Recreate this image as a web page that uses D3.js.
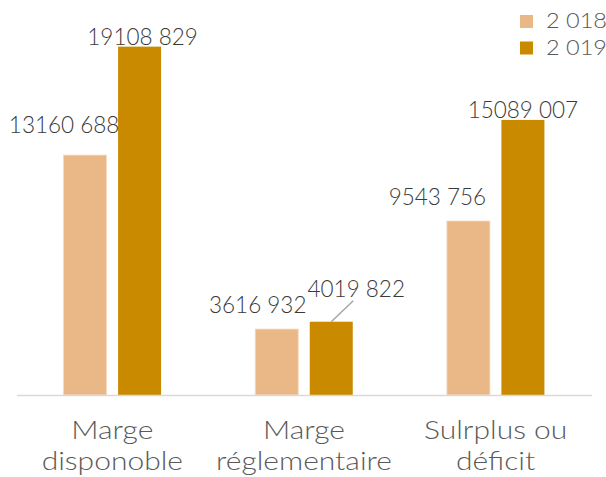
<!DOCTYPE html>
<html>
<head>
<meta charset="utf-8">
<script src="https://cdn.jsdelivr.net/npm/d3@7"></script>
<style>
  html, body { margin: 0; padding: 0; background: #fff; }
  svg { display: block; }
</style>
</head>
<body>
<svg id="chart" width="606" height="477"></svg>
<script>
// Chart data
const categories = [["Marge", "disponoble"], ["Marge", "réglementaire"], ["Sulrplus ou", "déficit"]];
const seriesNames = ["2 018", "2 019"];
const values2018 = [13160688, 3616932, 9543756];
const values2019 = [19108829, 4019822, 15089007];

// Layout and styling
const colors = { "2 018": "#EAB886", "2 019": "#CA8A00" };
const baseY = 395;
const FONT = "Lato, sans-serif";
// label offsets from the top-centre of each bar: [dx, dy]
const labelNudge = {
  "2 018": [[-21, -22], [-19, -16], [-31, -16]],
  "2 019": [[3, -2], [25, -25], [0, -2]]
};

const svg = d3.select("#chart");

// widen a text horizontally so the face reads like a wide geometric sans
function widen(sel, factor) {
  sel.each(function () {
    const len = this.getComputedTextLength();
    d3.select(this).attr("textLength", len * factor).attr("lengthAdjust", "spacingAndGlyphs");
  });
}

const x = d3.scaleBand().domain(d3.range(categories.length)).range([16.5, 591.5]).padding(0);
const xs = d3.scaleBand().domain(seriesNames)
  .range([x.bandwidth() / 2 - 48.75, x.bandwidth() / 2 + 48.75]).paddingInner(0.211);
const y = d3.scaleLinear().domain([0, 20000000]).range([baseY, baseY - 20 * 18.23]);

const fmt = v => Math.floor(v / 1000) + " " + String(v % 1000).padStart(3, "0");

const rows = categories.map((c, i) => ({
  i, label: c,
  vals: [
    { s: "2 018", v: values2018[i], k: i },
    { s: "2 019", v: values2019[i], k: i }
  ]
}));

// Bars
const groups = svg.selectAll("g.cat").data(rows).join("g")
  .attr("class", "cat")
  .attr("transform", d => `translate(${x(d.i)},0)`);

groups.selectAll("rect").data(d => d.vals).join("rect")
  .attr("x", d => xs(d.s))
  .attr("width", xs.bandwidth())
  .attr("y", d => y(d.v))
  .attr("height", d => y(0) - y(d.v))
  .attr("fill", d => colors[d.s])
  .attr("stroke", d => d.s === "2 018" ? "#F6D9BE" : "none")
  .attr("stroke-width", 0.8);

// Baseline axis
svg.append("g")
  .attr("transform", `translate(0,${baseY})`)
  .call(d3.axisBottom(x).tickSize(0).tickFormat(""))
  .call(g => g.select(".domain").attr("stroke", "#D9D9D9").attr("stroke-width", 1.5));

// Value labels
groups.each(function (d) {
  const g = d3.select(this);
  d.vals.forEach(p => {
    const [dx, dy] = labelNudge[p.s][p.k];
    const cx = xs(p.s) + xs.bandwidth() / 2;
    const ty = y(p.v);
    g.append("text")
      .attr("x", cx + dx).attr("y", ty + dy)
      .attr("text-anchor", "middle")
      .attr("font-family", FONT)
      .attr("font-weight", 300)
      .attr("font-size", 22.5)
      .attr("fill", "#3A3A3A")
      .text(fmt(p.v));
    if (dy < -20 && dx > 10) {
      // leader line from the label down to the bar top
      g.append("line")
        .attr("x1", cx + dx - 3).attr("y1", ty + dy + 4)
        .attr("x2", cx).attr("y2", ty)
        .attr("stroke", "#A6A6A6").attr("stroke-width", 1.5);
    }
  });
});

// Category labels (two lines each)
groups.each(function (d) {
  const g = d3.select(this);
  d.label.forEach((t, j) => {
    g.append("text")
      .attr("x", x.bandwidth() / 2)
      .attr("y", 439 + j * 31)
      .attr("text-anchor", "middle")
      .attr("font-family", FONT)
      .attr("font-weight", 300)
      .attr("font-size", 25)
      .attr("fill", "#595959")
      .text(t)
      .call(widen, 1.2);
  });
});

// Legend
const legend = svg.append("g");
seriesNames.forEach((s, j) => {
  legend.append("rect")
    .attr("x", 520).attr("y", 15 + j * 26.5)
    .attr("width", 13).attr("height", 13)
    .attr("fill", colors[s]);
  legend.append("text")
    .attr("x", 546).attr("y", 28 + j * 26.5)
    .attr("font-family", FONT)
    .attr("font-weight", 300)
    .attr("font-size", 21)
    .attr("fill", "#595959")
    .text(s)
    .call(widen, 1.12);
});
</script>
</body>
</html>
